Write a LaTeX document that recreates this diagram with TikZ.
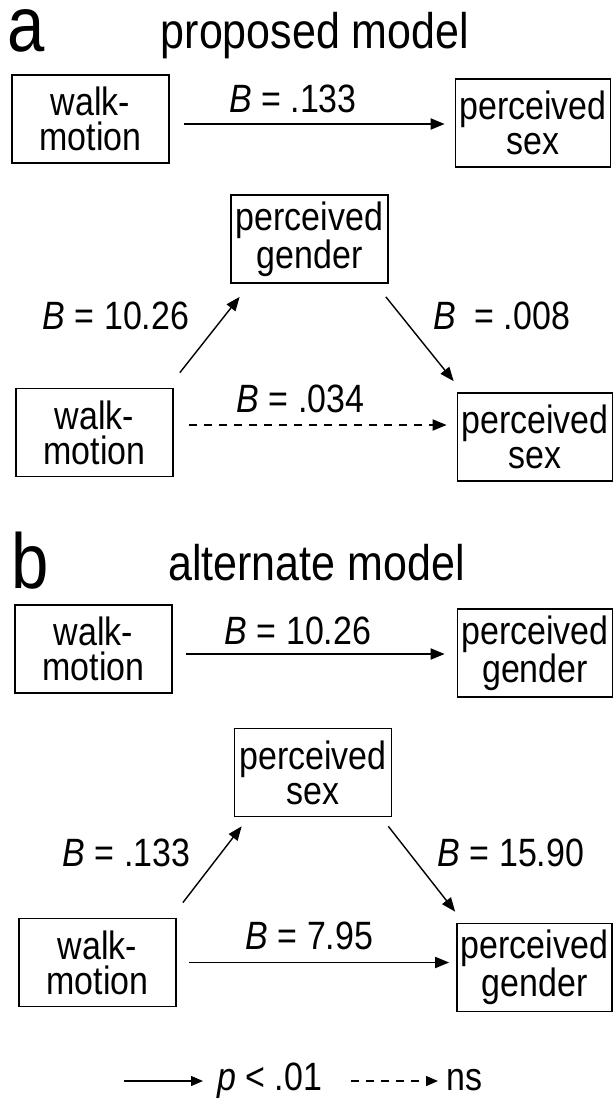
\documentclass[tikz,border=0pt]{standalone}
\usepackage{fontspec}
\setmainfont[FakeStretch=0.86]{Liberation Sans}
\usetikzlibrary{arrows.meta}
\begin{document}
\begin{tikzpicture}[x=1pt,y=-1pt,
  box/.style={draw,line width=1.7pt,minimum width=157pt,minimum height=88pt,inner sep=0pt,align=center,font=\fontsize{39.5}{35}\selectfont},
  boxr/.style={box,minimum width=155pt},
  lab/.style={anchor=base,inner sep=0pt,font=\fontsize{39.5}{35}\selectfont},
  panel/.style={anchor=base west,inner sep=0pt,text height=42pt,text depth=0pt,font=\fontsize{78}{78}\selectfont},
  ttl/.style={anchor=base,inner sep=0pt,font=\fontsize{50}{50}\selectfont},
  arr/.style={line width=1.8pt,-{Triangle[length=14pt,width=11pt]}},
  darr/.style={line width=1.4pt,-{Triangle[length=14pt,width=11pt]}},
  legarr/.style={line width=1.4pt,-{Triangle[length=12pt,width=10pt]}},
  dsh/.style={dash pattern=on 8pt off 7pt}
]
\useasboundingbox (0,0) rectangle (613,1098);

% ---------- panel a ----------
\node[panel] (pa) at (7,51) {a};
\node[ttl] (ta) at (315,48) {proposed model};

\node[box] (WMa1) at (90.5,119) {walk-\\motion};
\node[boxr] (PSa1) at (533,123) {perceived\\sex};
\draw[arr] ([shift={(14,5)}]WMa1.east) -- ([shift={(-10,1)}]PSa1.west);
\node[lab] (La1) at (293,112) {\textit{B} = .133};

\node[box] (PGa) at (309.5,239) {perceived\\gender};
\node[box] (WMa2) at (94.5,432.5) {walk-\\motion};
\node[boxr] (PSa2) at (535,437) {perceived\\sex};
\draw[darr] ([shift={(6,-15)}]WMa2.north east) -- ([shift={(9.5,13)}]PGa.south west);
\draw[darr] ([shift={(-3,13)}]PGa.south east) -- ([shift={(-3,-11)}]PSa2.north west);
\draw[arr,dsh] ([shift={(15,-7.5)}]WMa2.east) -- ([shift={(-10,-12)}]PSa2.west);
\node[lab] (La2) at (116,329) {\textit{B} = 10.26};
\node[lab] (La3) at (501.5,329) {\textit{B}\ \ = .008};
\node[lab] (La4) at (300.5,412) {\textit{B} = .034};

% ---------- panel b ----------
\node[panel] (pb) at (11,588) {b};
\node[ttl] (tb) at (316.5,580) {alternate model};

\node[box] (WMb1) at (93.5,649) {walk-\\motion};
\node[boxr] (PGb1) at (535,653) {perceived\\gender};
\draw[arr] ([shift={(13,5)}]WMb1.east) -- ([shift={(-12,1)}]PGb1.west);
\node[lab] (Lb1) at (298,644) {\textit{B} = 10.26};

\node[box] (PSb) at (313,772.5) {perceived\\sex};
\node[box] (WMb2) at (97.5,962.5) {walk-\\motion};
\node[boxr] (PGb2) at (534.5,967.5) {perceived\\gender};
\draw[darr] ([shift={(6,-15)}]WMb2.north east) -- ([shift={(8,9)}]PSb.south west);
\draw[darr] ([shift={(-4,9)}]PSb.south east) -- ([shift={(-1,-11)}]PGb2.north west);
\draw[arr] ([shift={(12,0)}]WMb2.east) -- ([shift={(-7,-5)}]PGb2.west);
\node[lab] (Lb2) at (126.5,866) {\textit{B} = .133};
\node[lab] (Lb3) at (511,866) {\textit{B} = 15.90};
\node[lab] (Lb4) at (309.5,949) {\textit{B} = 7.95};

% ---------- legend ----------
\node[lab,anchor=base west] (lp) at (217,1090) {\textit{p} < .01};
\node[lab,anchor=base west] (lns) at (446,1090) {ns};
\coordinate (l1s) at (124,1081);
\coordinate (l2s) at (351,1081);
\draw[legarr,shorten >=14pt] (l1s) -- (l1s -| lp.west);
\draw[legarr,dsh,shorten >=8pt] (l2s) -- (l2s -| lns.west);
\end{tikzpicture}
\end{document}
